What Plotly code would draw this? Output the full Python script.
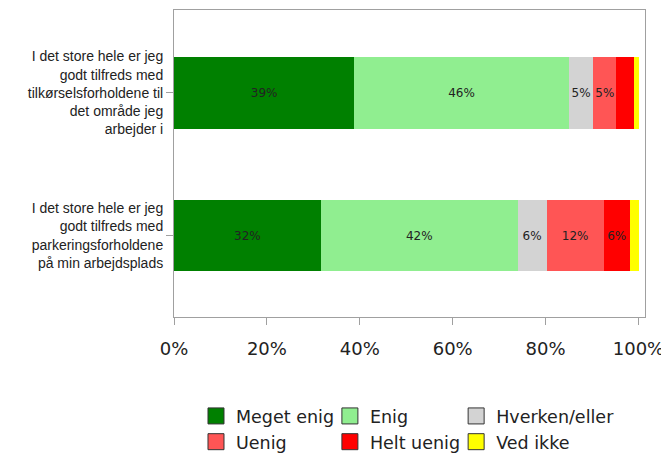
import plotly.graph_objects as go

categories = [
    "I det store hele er jeg<br>godt tilfreds med<br>parkeringsforholdene<br>på min arbejdsplads",
    "I det store hele er jeg<br>godt tilfreds med<br>tilkørselsforholdene til<br>det område jeg<br>arbejder i",
]
series_names = ["Meget enig", "Enig", "Hverken/eller", "Uenig", "Helt uenig", "Ved ikke"]
# values per series: [parkering, tilkørsel]
meget_enig = [31.6, 38.8]
enig = [42.4, 46.2]
hverken = [6.2, 5.3]
uenig = [12.3, 4.9]
helt_uenig = [5.6, 3.8]
ved_ikke = [1.9, 1.0]
series_values = [meget_enig, enig, hverken, uenig, helt_uenig, ved_ikke]
colors = ["#008000", "#90EE90", "#D3D3D3", "#FF5555", "#FF0000", "#FFFF00"]
legend_ids = ["legend", "legend2", "legend3", "legend", "legend2", "legend3"]
x_ticks = [0, 20, 40, 60, 80, 100]
x_ticktext = ["0%", "20%", "40%", "60%", "80%", "100%"]

ypos = list(range(len(categories)))

fig = go.Figure()
for name, vals, col in zip(series_names, series_values, colors):
    txt = [f"{round(v)}%" if v >= 4.5 else "" for v in vals]
    fig.add_trace(go.Bar(
        y=ypos, x=vals, orientation="h", name=name,
        marker=dict(color=col, line=dict(width=0)),
        width=0.5, text=txt, textposition="inside", insidetextanchor="middle",
        textangle=0, constraintext="none",
        textfont=dict(family="DejaVu Sans", size=12, color="#222222"),
        showlegend=False, hoverinfo="x+name",
    ))
for name, col, lg in zip(series_names, colors, legend_ids):
    fig.add_trace(go.Scatter(
        x=[None], y=[None], mode="markers", name=name, legend=lg,
        marker=dict(symbol="square", size=16, color=col, line=dict(color="#333333", width=1)),
        showlegend=True,
    ))

legend_common = dict(
    orientation="v", xanchor="left", y=-0.264, yanchor="top",
    traceorder="normal", bgcolor="rgba(0,0,0,0)",
    font=dict(family="DejaVu Sans", size=17.5, color="#222222"),
    itemwidth=30,
)

fig.update_layout(
    width=661, height=445,
    barmode="stack",
    paper_bgcolor="white", plot_bgcolor="white",
    margin=dict(l=166, r=24, t=2, b=136, autoexpand=False),
    font=dict(family="DejaVu Sans", color="#222222"),
    xaxis=dict(
        range=[0, 101.4], tickvals=x_ticks, ticktext=x_ticktext,
        showgrid=False, zeroline=False, automargin=False,
        showline=True, mirror=True, linecolor="#A0A0A0", linewidth=1,
        ticks="outside", ticklen=7, tickcolor="#A0A0A0", ticklabelstandoff=8,
        tickfont=dict(family="DejaVu Sans", size=18, color="#222222"),
    ),
    yaxis=dict(
        range=[-0.57, 1.58], tickvals=ypos, ticktext=categories,
        showgrid=False, zeroline=False, automargin=False,
        showline=True, mirror=True, linecolor="#A0A0A0", linewidth=1,
        ticks="outside", ticklen=7, tickcolor="#A0A0A0",
        tickfont=dict(family="Liberation Sans", size=14, color="#222222"),
    ),
    legend=dict(x=0.0467, **legend_common),
    legend2=dict(x=0.331, **legend_common),
    legend3=dict(x=0.599, **legend_common),
)

fig.write_html("out.html")
